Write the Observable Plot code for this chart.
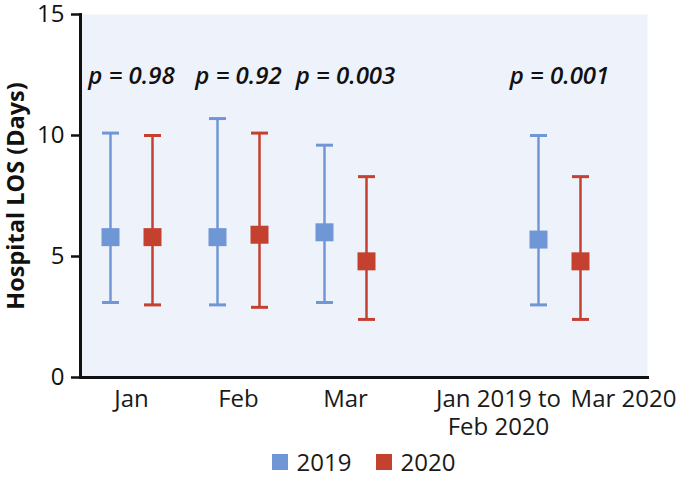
<!DOCTYPE html>
<html>
<head>
<meta charset="utf-8">
<script src="https://cdn.jsdelivr.net/npm/d3@7"></script>
<script src="https://cdn.jsdelivr.net/npm/@observablehq/plot@0.6"></script>
<style>
  body { margin: 0; background: #fff; font-family: "Open Sans", sans-serif; }
  #legend { display: flex; justify-content: center; align-items: center; box-sizing: border-box;
            width: 680px; height: 33px; padding-left: 80px; padding-right: 33px;
            font-size: 24px; color: #1a1a1a; }
  .item { display: flex; align-items: center; margin: 0 12px; }
  .sw { width: 16px; height: 16px; margin-right: 9px; }
</style>
</head>
<body>
<div id="chart"></div>
<div id="legend"></div>
<script>
// ---- data ----
const groups = ["Jan", "Feb", "Mar", "Overall"];
const groupLabels = ["Jan", "Feb", "Mar", ""];
const overallLabels = ["Jan 2019 to", "Feb 2020", "Mar 2020"];
const years = ["2019", "2020"];
const mean2019 = [5.8, 5.8, 6.0, 5.7];
const lo2019   = [3.1, 3.0, 3.1, 3.0];
const hi2019   = [10.1, 10.7, 9.6, 10.0];
const mean2020 = [5.8, 5.9, 4.8, 4.8];
const lo2020   = [3.0, 2.9, 2.4, 2.4];
const hi2020   = [10.0, 10.1, 8.3, 8.3];
const pValues  = ["p = 0.98", "p = 0.92", "p = 0.003", "p = 0.001"];
const yTicks   = [0, 5, 10, 15];

// ---- styling ----
const colors = {"2019": "#7097d5", "2020": "#c4402f"};
const offsets = {"2019": -21, "2020": 21};

const rows = [];
groups.forEach((g, i) => {
  rows.push({group: g, year: "2019", mean: mean2019[i], lo: lo2019[i], hi: hi2019[i]});
  rows.push({group: g, year: "2020", mean: mean2020[i], lo: lo2020[i], hi: hi2020[i]});
});
const pRows = groups.map((g, i) => ({group: g, p: pValues[i]}));

const capSymbol = {draw(ctx, size) { const r = Math.sqrt(size / Math.PI); ctx.moveTo(-r, 0); ctx.lineTo(r, 0); }};
const squareSymbol = {draw(ctx, size) { const r = Math.sqrt(size / Math.PI); ctx.rect(-r, -r, 2 * r, 2 * r); }};

const seriesMarks = years.flatMap(yr => {
  const d = rows.filter(r => r.year === yr);
  const c = colors[yr], dx = offsets[yr];
  return [
    Plot.ruleX(d, {x: "group", y1: "lo", y2: "hi", stroke: c, strokeWidth: 2.5, dx}),
    Plot.dot(d, {x: "group", y: "hi", symbol: capSymbol, r: 8.5, fill: "none", stroke: c, strokeWidth: 3, dx}),
    Plot.dot(d, {x: "group", y: "lo", symbol: capSymbol, r: 8.5, fill: "none", stroke: c, strokeWidth: 3, dx}),
    Plot.dot(d, {x: "group", y: "mean", symbol: squareSymbol, r: 9, fill: c, stroke: "none", dx})
  ];
});

const labelStyle = {x: () => "Overall", frameAnchor: "bottom", lineAnchor: "top", fontSize: 24, fill: "#1a1a1a"};

const chart = Plot.plot({
  width: 680,
  height: 445,
  marginLeft: 80,
  marginRight: 33,
  marginTop: 14,
  marginBottom: 68,
  style: {fontFamily: "'Open Sans', sans-serif", color: "#1a1a1a", background: "#fff"},
  x: {type: "point", domain: ["Jan", "Feb", "Mar", "gap", "Overall"], padding: 0, insetLeft: 50.5, insetRight: 87.7},
  y: {domain: [0, 15]},
  marks: [
    Plot.frame({fill: "#eef2fa", stroke: null}),
    Plot.axisY({ticks: yTicks, tickSize: 9, tickPadding: 7, fontSize: 24, label: null, color: "#111", strokeWidth: 2.5}),
    Plot.axisX({ticks: groups, tickSize: 0, tickPadding: 12.5, fontSize: 24, label: null,
                tickFormat: d => groupLabels[groups.indexOf(d)] ?? ""}),
    Plot.text(["Hospital LOS (Days)"], {frameAnchor: "left", textAnchor: "middle", lineAnchor: "middle", rotate: -90, dx: -64,
                                        fontSize: 23.5, fontWeight: "bold", fill: "#111"}),
    ...seriesMarks,
    Plot.text(pRows, {x: "group", text: "p", frameAnchor: "top", dy: 62, lineAnchor: "middle",
                      fontSize: 24, fontStyle: "italic", fontWeight: 600, fill: "#111"}),
    Plot.text([overallLabels[0]], {...labelStyle, dy: 12.5, dx: -61}),
    Plot.text([overallLabels[1]], {...labelStyle, dy: 40, dx: -61}),
    Plot.text([overallLabels[2]], {...labelStyle, dy: 12.5, dx: 64}),
    Plot.frame({anchor: "left", stroke: "#111", strokeWidth: 3}),
    Plot.frame({anchor: "bottom", stroke: "#111", strokeWidth: 3})
  ]
});
document.getElementById("chart").appendChild(chart);

const legend = document.getElementById("legend");
years.forEach(yr => {
  const item = document.createElement("div");
  item.className = "item";
  const sw = document.createElement("span");
  sw.className = "sw";
  sw.style.background = colors[yr];
  const t = document.createElement("span");
  t.textContent = yr;
  item.appendChild(sw); item.appendChild(t);
  legend.appendChild(item);
});
</script>
</body>
</html>
